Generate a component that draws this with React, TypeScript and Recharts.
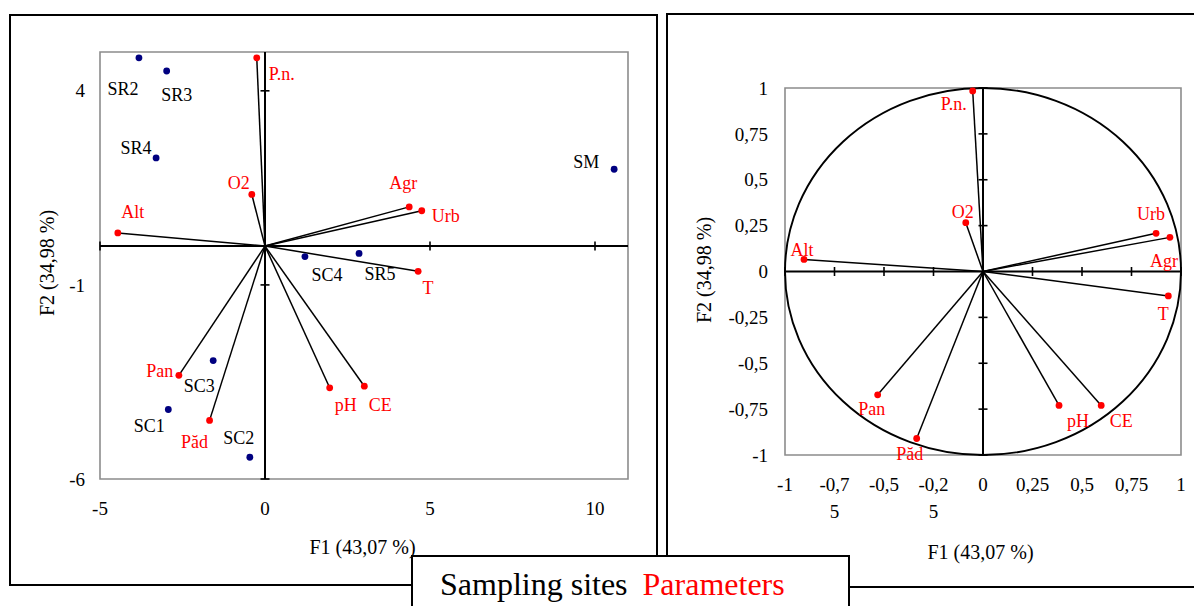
import React from 'react';
import {
  ScatterChart,
  Scatter,
  XAxis,
  YAxis,
  ReferenceLine,
  ReferenceArea,
  ReferenceDot,
} from 'recharts';

const FONT = '"Liberation Serif", "Times New Roman", serif';
const NAVY = '#000080';
const RED = '#FF0000';

// sampling sites, biplot scores
const siteNames = ['SR2', 'SR3', 'SR4', 'SM', 'SC4', 'SR5', 'SC3', 'SC1', 'SC2'];
const siteF1 = [-3.82, -2.98, -3.3, 10.58, 1.21, 2.85, -1.57, -2.93, -0.46];
const siteF2 = [4.85, 4.51, 2.27, 1.98, -0.27, -0.19, -2.95, -4.21, -5.44];

// parameters, biplot scores
const paramNames = ['P.n.', 'O2', 'Alt', 'Agr', 'Urb', 'T', 'Pan', 'Păd', 'pH', 'CE'];
const paramF1 = [-0.25, -0.4, -4.46, 4.37, 4.75, 4.64, -2.61, -1.68, 1.96, 3.01];
const paramF2 = [4.85, 1.33, 0.34, 1.01, 0.91, -0.65, -3.33, -4.49, -3.65, -3.61];

// parameters, correlation circle
const corF1 = [-0.052, -0.087, -0.904, 0.944, 0.874, 0.936, -0.532, -0.335, 0.384, 0.597];
const corF2 = [0.984, 0.266, 0.066, 0.186, 0.208, -0.133, -0.672, -0.91, -0.73, -0.73];

const biplotXTicks = [-5, 0, 5, 10];
const biplotYTicks = [-6, -1, 4];
const circleTicks = [-1, -0.75, -0.5, -0.25, 0, 0.25, 0.5, 0.75, 1];

const xTitle = 'F1 (43,07 %)';
const yTitle = 'F2 (34,98 %)';

// where each label sits relative to its dot (px)
const siteLabelPos: Record<string, [number, number]> = {
  SR2: [-16, 31], SR3: [10, 24], SR4: [-20, -10], SM: [-28, -8], SC4: [22, 18],
  SR5: [21, 20], SC3: [-14, 25], SC1: [-19, 16], SC2: [-11, -20],
};
const paramLabelPos: Record<string, [number, number]> = {
  'P.n.': [25, 16], O2: [-13, -12], Alt: [15, -21], Agr: [-6, -24], Urb: [24, 5],
  T: [10, 16], Pan: [-19, -5], 'Păd': [-15, 21], pH: [16, 17], CE: [16, 18],
};
const circleLabelPos: Record<string, [number, number]> = {
  'P.n.': [-19, 13], O2: [-3, -11], Alt: [-2, -10], Agr: [-6, 23], Urb: [-5, -20],
  T: [-5, 18], Pan: [-6, 14], 'Păd': [-7, 15], pH: [19, 15], CE: [20, 15],
};

const sites = siteNames.map((name, i) => ({ name, x: siteF1[i], y: siteF2[i] }));
const params = paramNames.map((name, i) => ({ name, x: paramF1[i], y: paramF2[i] }));
const corr = paramNames.map((name, i) => ({ name, x: corF1[i], y: corF2[i] }));

const fmt = (v: number) => String(v).replace('.', ',');

const pointShape = (dot: string, text: string, pos: Record<string, [number, number]>) =>
  (props: any) => {
    const { cx, cy, payload } = props;
    const [dx, dy] = pos[payload.name] || [0, 0];
    return (
      <g>
        <circle cx={cx} cy={cy} r={3.4} fill={dot} />
        <text x={cx + dx} y={cy + dy} dy="0.35em" textAnchor="middle" fill={text}
          style={{ fontFamily: FONT, fontSize: 18 }}>
          {payload.name}
        </text>
      </g>
    );
  };

const XTick = (props: any) => {
  const { x, y, payload } = props;
  const s = fmt(payload.value);
  // long negative labels wrap like the original (e.g. "-0,7" / "5")
  const lines = s.length > 4 ? [s.slice(0, 4), s.slice(4)] : [s];
  return (
    <text x={x} y={y} textAnchor="middle" fill="#000" style={{ fontFamily: FONT, fontSize: 19 }}>
      {lines.map((l, i) => (
        <tspan key={i} x={x} dy={i === 0 ? '0.71em' : 27}>{l}</tspan>
      ))}
    </text>
  );
};

const YTick = (props: any) => {
  const { x, y, payload } = props;
  return (
    <text x={x} y={y} dy="0.35em" textAnchor="end" fill="#000" style={{ fontFamily: FONT, fontSize: 19 }}>
      {fmt(payload.value)}
    </text>
  );
};

const vTick = (p: any) => (
  <line x1={p.cx} x2={p.cx} y1={p.cy - 4.5} y2={p.cy + 4.5} stroke="#000" strokeWidth={1.6} />
);
const hTick = (p: any) => (
  <line x1={p.cx - 4.5} x2={p.cx + 4.5} y1={p.cy} y2={p.cy} stroke="#000" strokeWidth={1.6} />
);

const Ellipse = (p: any) => (
  <ellipse cx={p.x + p.width / 2} cy={p.y + p.height / 2} rx={Math.abs(p.width) / 2}
    ry={Math.abs(p.height) / 2} fill="none" stroke="#000" strokeWidth={1.9} />
);

const Title = ({ x, y, text, rotate }: { x: number; y: number; text: string; rotate?: boolean }) => (
  <div style={{
    position: 'absolute', left: x, top: y, fontFamily: FONT, fontSize: 20, lineHeight: '20px',
    whiteSpace: 'nowrap', transform: `translate(-50%, -50%)${rotate ? ' rotate(-90deg)' : ''}`,
  }}>{text}</div>
);

function Biplot() {
  return (
    <ScatterChart width={660} height={600} margin={{ top: 52, right: 32, bottom: 81, left: 40 }}>
      <XAxis type="number" dataKey="x" domain={[-5, 11]} ticks={biplotXTicks}
        axisLine={false} tickLine={false} tickSize={6} tickMargin={17} height={40} tick={XTick} />
      <YAxis type="number" dataKey="y" domain={[-6, 5]} ticks={biplotYTicks}
        axisLine={false} tickLine={false} tickSize={6} tickMargin={9} width={60} tick={YTick} />
      <ReferenceArea x1={-5} x2={11} y1={-6} y2={5} fill="none" fillOpacity={0}
        stroke="#8c8c8c" strokeWidth={1.6} />
      <ReferenceLine x={0} stroke="#000" strokeWidth={2} />
      <ReferenceLine y={0} stroke="#000" strokeWidth={2} />
      {biplotXTicks.filter((t) => t !== 0).map((t) => (
        <ReferenceDot key={'bx' + t} x={t} y={0} r={0} shape={vTick} />
      ))}
      {biplotYTicks.map((t) => (
        <ReferenceDot key={'by' + t} x={0} y={t} r={0} shape={hTick} />
      ))}
      {params.map((p) => (
        <ReferenceLine key={'bl' + p.name} segment={[{ x: 0, y: 0 }, { x: p.x, y: p.y }]}
          stroke="#000" strokeWidth={1.5} />
      ))}
      <Scatter data={sites} isAnimationActive={false} shape={pointShape(NAVY, '#000', siteLabelPos)} />
      <Scatter data={params} isAnimationActive={false} shape={pointShape(RED, RED, paramLabelPos)} />
    </ScatterChart>
  );
}

function CorrelationCircle() {
  return (
    <ScatterChart width={534} height={600} margin={{ top: 88, right: 13, bottom: 105, left: 65 }}>
      <XAxis type="number" dataKey="x" domain={[-1, 1]} ticks={circleTicks}
        axisLine={false} tickLine={false} tickSize={6} tickMargin={17} height={40} tick={XTick}
        interval={0} />
      <YAxis type="number" dataKey="y" domain={[-1, 1]} ticks={circleTicks}
        axisLine={false} tickLine={false} tickSize={6} tickMargin={11} width={60} tick={YTick}
        interval={0} />
      <ReferenceArea x1={-1} x2={1} y1={-1} y2={1} fill="none" fillOpacity={0}
        stroke="#8c8c8c" strokeWidth={1.6} />
      <ReferenceArea x1={-1} x2={1} y1={-1} y2={1} shape={Ellipse} />
      <ReferenceLine x={0} stroke="#000" strokeWidth={2} />
      <ReferenceLine y={0} stroke="#000" strokeWidth={2} />
      {circleTicks.filter((t) => t !== 0).map((t) => (
        <ReferenceDot key={'cx' + t} x={t} y={0} r={0} shape={vTick} />
      ))}
      {circleTicks.filter((t) => t !== 0).map((t) => (
        <ReferenceDot key={'cy' + t} x={0} y={t} r={0} shape={hTick} />
      ))}
      {corr.map((p) => (
        <ReferenceLine key={'cl' + p.name} segment={[{ x: 0, y: 0 }, { x: p.x, y: p.y }]}
          stroke="#000" strokeWidth={1.5} />
      ))}
      <Scatter data={corr} isAnimationActive={false} shape={pointShape(RED, RED, circleLabelPos)} />
    </ScatterChart>
  );
}

export default function App() {
  return (
    <div style={{
      position: 'absolute', left: 0, top: 0, width: 1194, height: 606, overflow: 'hidden',
      background: '#fff', fontFamily: FONT,
    }}>
      <div style={{ position: 'absolute', left: 9, top: 14, width: 649, height: 572,
        border: '2px solid #000', boxSizing: 'border-box' }} />
      <div style={{ position: 'absolute', left: 666, top: 12.5, width: 600, height: 575,
        border: '2px solid #000', boxSizing: 'border-box' }} />

      <div style={{ position: 'absolute', left: 0, top: 0 }}>
        <Biplot />
      </div>
      <div style={{ position: 'absolute', left: 660, top: 0 }}>
        <CorrelationCircle />
      </div>

      <Title x={362.5} y={547} text={xTitle} />
      <Title x={47} y={263} text={yTitle} rotate />
      <Title x={980.5} y={551.5} text={xTitle} />
      <Title x={704} y={269.5} text={yTitle} rotate />

      <div style={{ position: 'absolute', left: 411, top: 555, width: 439, height: 80,
        border: '2px solid #000', boxSizing: 'border-box', background: '#fff' }}>
        <div style={{ position: 'absolute', left: 27, top: 11, fontSize: 32, lineHeight: '32px',
          whiteSpace: 'nowrap' }}>
          <span style={{ color: '#000' }}>Sampling sites</span>
          <span style={{ color: RED, marginLeft: 15 }}>Parameters</span>
        </div>
      </div>
    </div>
  );
}
